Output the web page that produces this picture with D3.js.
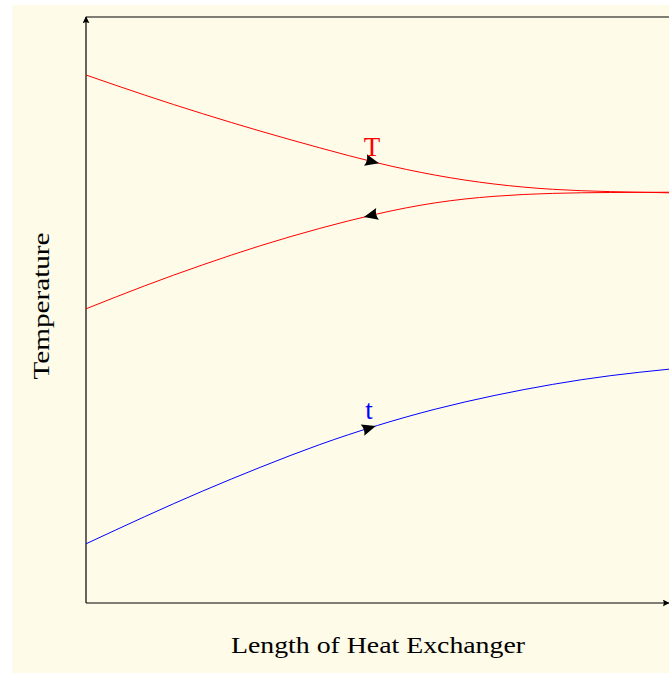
<!DOCTYPE html>
<html>
<head>
<meta charset="utf-8">
<script src="https://cdn.jsdelivr.net/npm/d3@7"></script>
<style>
  html, body { margin: 0; padding: 0; background: #fff; }
  svg text { font-family: "Liberation Serif", "DejaVu Serif", serif; }
</style>
</head>
<body>
<div id="chart"></div>
<script>
const WIDTH = 669;
const HEIGHT = 673;
const MARGIN = { TOP: 17, BOTTOM: 70, LEFT: 86, RIGHT: 0 };

// length along the exchanger (arbitrary units)
const lengths = [0, 1, 2, 3, 4, 5, 6, 7, 8, 9, 10];
// hot stream T, flowing left to right
const hotForward = [90.1, 86.7, 83.5, 80.5, 77.7, 75.1, 73.0, 71.5, 70.6, 70.2, 70.0];
// hot stream, counter-flow return (right to left)
const hotReturn = [50.2, 54.1, 57.7, 61.0, 63.9, 66.4, 68.3, 69.4, 69.9, 70.05, 70.1];
// cold stream t
const coldStream = [10.1, 14.7, 19.1, 23.2, 27.0, 30.3, 33.1, 35.4, 37.3, 38.8, 39.9];

const x = d3.scaleLinear().domain([0, 10]).range([MARGIN.LEFT, WIDTH - MARGIN.RIGHT]);
const y = d3.scaleLinear().domain([0, 100]).range([HEIGHT - MARGIN.BOTTOM, MARGIN.TOP]);

const svg = d3.select("#chart")
  .append("svg")
    .attr("width", WIDTH)
    .attr("height", HEIGHT);

svg.append("rect")
  .attr("x", 12).attr("y", 5)
  .attr("width", WIDTH - 12).attr("height", HEIGHT - 5)
  .attr("fill", "#fefbe8");

const defs = svg.append("defs");
defs.append("marker")
    .attr("id", "axisArrow")
    .attr("viewBox", "0 0 10 10")
    .attr("refX", 9).attr("refY", 5)
    .attr("markerWidth", 7).attr("markerHeight", 7)
    .attr("markerUnits", "userSpaceOnUse")
    .attr("orient", "auto")
  .append("path")
    .attr("d", "M0,0 Q3,5 0,10 L10,5 Z")
    .attr("fill", "#000");

// axes (no ticks)
svg.append("line")
  .attr("x1", x(0)).attr("y1", y(0))
  .attr("x2", x(0)).attr("y2", y(100))
  .attr("stroke", "#000").attr("stroke-width", 1.2)
  .attr("marker-end", "url(#axisArrow)");

svg.append("line")
  .attr("x1", x(0)).attr("y1", y(0))
  .attr("x2", x(10)).attr("y2", y(0))
  .attr("stroke", "#000").attr("stroke-width", 1.2)
  .attr("marker-end", "url(#axisArrow)");

svg.append("line")
  .attr("x1", x(0)).attr("y1", y(100))
  .attr("x2", x(10) + 2).attr("y2", y(100))
  .attr("stroke", "#000").attr("stroke-width", 1);

const line = d3.line()
  .x((d, i) => x(lengths[i]))
  .y(d => y(d))
  .curve(d3.curveNatural);

const curves = [
  { values: hotForward, color: "#ff0000", reverse: false },
  { values: hotReturn, color: "#ff0000", reverse: true },
  { values: coldStream, color: "#0000ff", reverse: false }
];

curves.forEach(c => {
  const path = svg.append("path")
    .attr("d", line(c.values))
    .attr("fill", "none")
    .attr("stroke", c.color)
    .attr("stroke-width", 1);

  // flow arrow at the middle of the curve
  const node = path.node();
  const len = node.getTotalLength();
  const mid = len / 2;
  const p1 = node.getPointAtLength(mid - 2);
  const p2 = node.getPointAtLength(mid + 2);
  let angle = Math.atan2(p2.y - p1.y, p2.x - p1.x) * 180 / Math.PI;
  if (c.reverse) angle += 180;
  const pm = node.getPointAtLength(mid);
  svg.append("path")
    .attr("d", "M7,0 L-7,-6 Q-4,0 -7,6 Z")
    .attr("transform", `translate(${pm.x},${pm.y}) rotate(${angle})`)
    .attr("fill", "#000");
});

svg.append("text")
  .attr("x", 372).attr("y", 156)
  .attr("text-anchor", "middle")
  .attr("font-family", "Liberation Serif")
  .attr("font-size", 27)
  .attr("fill", "#ff0000")
  .text("T");

svg.append("text")
  .attr("x", 369).attr("y", 419)
  .attr("text-anchor", "middle")
  .attr("font-family", "Liberation Serif")
  .attr("font-size", 27)
  .attr("fill", "#0000ff")
  .text("t");

svg.append("text")
  .attr("x", 378).attr("y", 653)
  .attr("text-anchor", "middle")
  .attr("font-size", 24)
  .attr("textLength", 294)
  .attr("lengthAdjust", "spacingAndGlyphs")
  .attr("fill", "#000")
  .text("Length of Heat Exchanger");

svg.append("text")
  .attr("transform", "translate(49,306) rotate(-90)")
  .attr("text-anchor", "middle")
  .attr("font-size", 24)
  .attr("textLength", 147)
  .attr("lengthAdjust", "spacingAndGlyphs")
  .attr("fill", "#000")
  .text("Temperature");
</script>
</body>
</html>
